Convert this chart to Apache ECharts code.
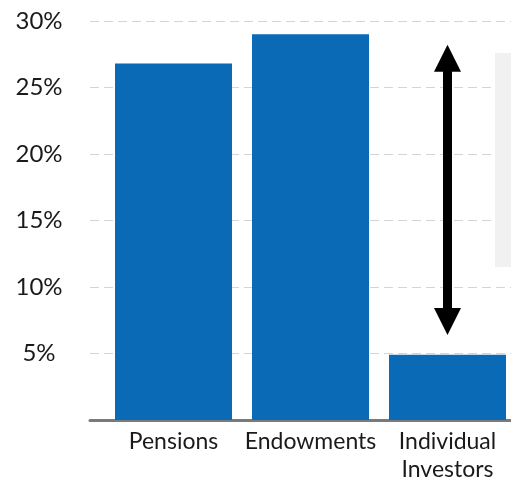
<!DOCTYPE html>
<html>
<head>
<meta charset="utf-8">
<script src="https://cdn.jsdelivr.net/npm/echarts@6/dist/echarts.min.js"></script>
<style>
  html, body { margin: 0; padding: 0; background: #fff; }
  #chart { width: 511px; height: 480px; }
</style>
</head>
<body>
<div id="chart"></div>
<script>
const categories = ["Pensions", "Endowments", "Individual Investors"];
const allocation = [26.8, 29.0, 4.9];
const yTicks = [0, 5, 10, 15, 20, 25, 30];
// arrow spans the gap between individual investors and the institutions
const arrowFrom = 7.4;
const arrowTo = 27.2;

const chart = echarts.init(document.getElementById("chart"));

const font = "Lato, 'Noto Sans', sans-serif";

chart.setOption({
  animation: false,
  grid: [
    // background grid: gridlines + axis line
    { left: 90, right: 0, top: 21, bottom: 60, outerBoundsMode: "none" },
    // bars
    { left: 105, right: -5, top: 21, bottom: 60, outerBoundsMode: "none" },
  ],
  xAxis: [
    {
      gridIndex: 0,
      type: "category",
      data: categories,
      axisLine: { show: true, lineStyle: { color: "#7a7a7a", width: 3 } },
      axisTick: { show: false },
      axisLabel: { show: false },
    },
    {
      gridIndex: 1,
      type: "category",
      data: categories,
      axisLine: { show: false },
      axisTick: { show: false },
      axisLabel: {
        interval: 0,
        hideOverlap: false,
        color: "#1a1a1a",
        fontFamily: font,
        fontSize: 23,
        lineHeight: 28,
        margin: 8,
        formatter: (v) => v.replace(" ", "\n"),
      },
    },
  ],
  yAxis: [
    {
      gridIndex: 0,
      type: "value",
      min: yTicks[0],
      max: yTicks[yTicks.length - 1],
      interval: 5,
      axisLine: { show: false },
      axisTick: { show: false },
      axisLabel: {
        color: "#1a1a1a",
        fontFamily: font,
        fontSize: 24,
        align: "center",
        margin: 51,
        formatter: (v) => (v === 0 ? "" : v + "%"),
      },
      splitLine: {
        show: true,
        lineStyle: { color: "#d4d4d4", type: [9, 5], width: 1 },
      },
    },
    {
      gridIndex: 1,
      type: "value",
      min: yTicks[0],
      max: yTicks[yTicks.length - 1],
      interval: 5,
      show: false,
      splitLine: { show: false },
    },
  ],
  series: [
    {
      type: "bar",
      xAxisIndex: 1,
      yAxisIndex: 1,
      data: allocation,
      barCategoryGap: "14.6%",
      itemStyle: { color: "#0b6ab5" },
      markLine: {
        silent: true,
        symbol: ["triangle", "triangle"],
        symbolSize: [27, 27],
        label: { show: false },
        lineStyle: { color: "#000", width: 9, type: "solid" },
        data: [
          [
            { coord: [categories[2], arrowFrom] },
            { coord: [categories[2], arrowTo] },
          ],
        ],
      },
    },
  ],
  graphic: [
    {
      type: "rect",
      z: 100,
      shape: { x: 495, y: 53, width: 16, height: 214 },
      style: { fill: "#f1f1f1" },
    },
  ],
});
</script>
</body>
</html>
